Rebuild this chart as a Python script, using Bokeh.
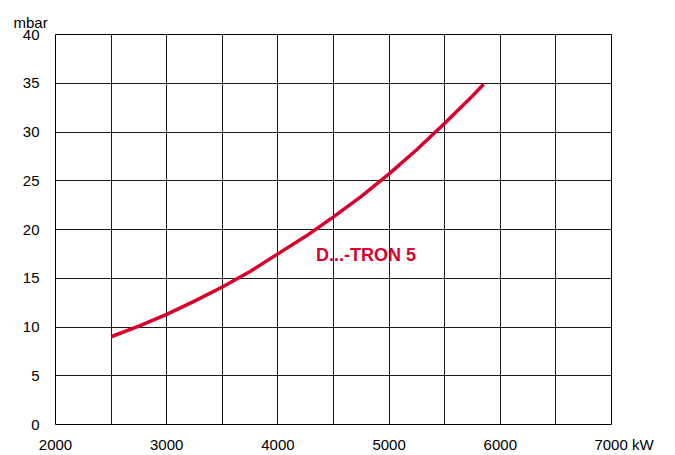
from bokeh.plotting import figure
from bokeh.models import FixedTicker, SingleIntervalTicker, Label, Range1d
from bokeh.embed import file_html
from bokeh.resources import INLINE

# data
power_kw = [2500, 2750, 3000, 3250, 3500, 3750, 4000, 4250, 4500, 4750,
            5000, 5250, 5500, 5750, 5850]
pressure_mbar = [9.0, 10.1, 11.3, 12.65, 14.1, 15.7, 17.5, 19.3, 21.3, 23.4,
                 25.7, 28.2, 30.9, 33.7, 34.9]
x_ticks = [2000, 3000, 4000, 5000, 6000, 7000]
y_ticks = [0, 5, 10, 15, 20, 25, 30, 35, 40]
series_name = "D...-TRON 5"
x_unit = "kW"
y_unit = "mbar"

RED = "#d9002b"
FONT = "Liberation Sans"

p = figure(width=666, height=455, output_backend="svg", toolbar_location=None,
           x_range=Range1d(2000, 7000), y_range=Range1d(0, 40),
           min_border_left=55, min_border_right=55, min_border_top=34,
           min_border_bottom=31)
p.background_fill_color = "white"
p.border_fill_color = "white"
p.outline_line_color = "black"
p.outline_line_width = 1

p.title.text = y_unit
p.title.align = "left"
p.title.offset = -42
p.title.standoff = 8
p.title.text_font = FONT
p.title.text_font_size = "15px"
p.title.text_font_style = "normal"
p.title.text_color = "black"

for ax in (p.xaxis[0], p.yaxis[0]):
    ax.axis_line_color = None
    ax.major_tick_line_color = None
    ax.minor_tick_line_color = None
    ax.major_tick_out = 0
    ax.major_tick_in = 0
    ax.major_label_text_font = FONT
    ax.major_label_text_font_size = "15px"
    ax.major_label_text_color = "black"

p.xaxis[0].ticker = FixedTicker(ticks=x_ticks)
p.yaxis[0].ticker = FixedTicker(ticks=y_ticks)
p.xaxis[0].major_label_standoff = 11
p.yaxis[0].major_label_standoff = 16
pad = "\u00a0" * 6
p.xaxis[0].major_label_overrides = {x_ticks[-1]: pad + str(x_ticks[-1]) + " " + x_unit}

p.xgrid[0].ticker = SingleIntervalTicker(interval=500)
p.ygrid[0].ticker = SingleIntervalTicker(interval=5)
for g in (p.xgrid[0], p.ygrid[0]):
    g.grid_line_color = "#1a1a1a"
    g.grid_line_width = 1
    g.grid_line_alpha = 1

p.line(power_kw, pressure_mbar, line_color=RED, line_width=3.5,
       line_join="round")

p.add_layout(Label(x=4342, y=17.4, text=series_name, text_color=RED,
                   text_font=FONT, text_font_size="18px", text_font_style="bold",
                   text_align="left", text_baseline="alphabetic"))

open("out.html", "w").write(file_html(p, INLINE))
